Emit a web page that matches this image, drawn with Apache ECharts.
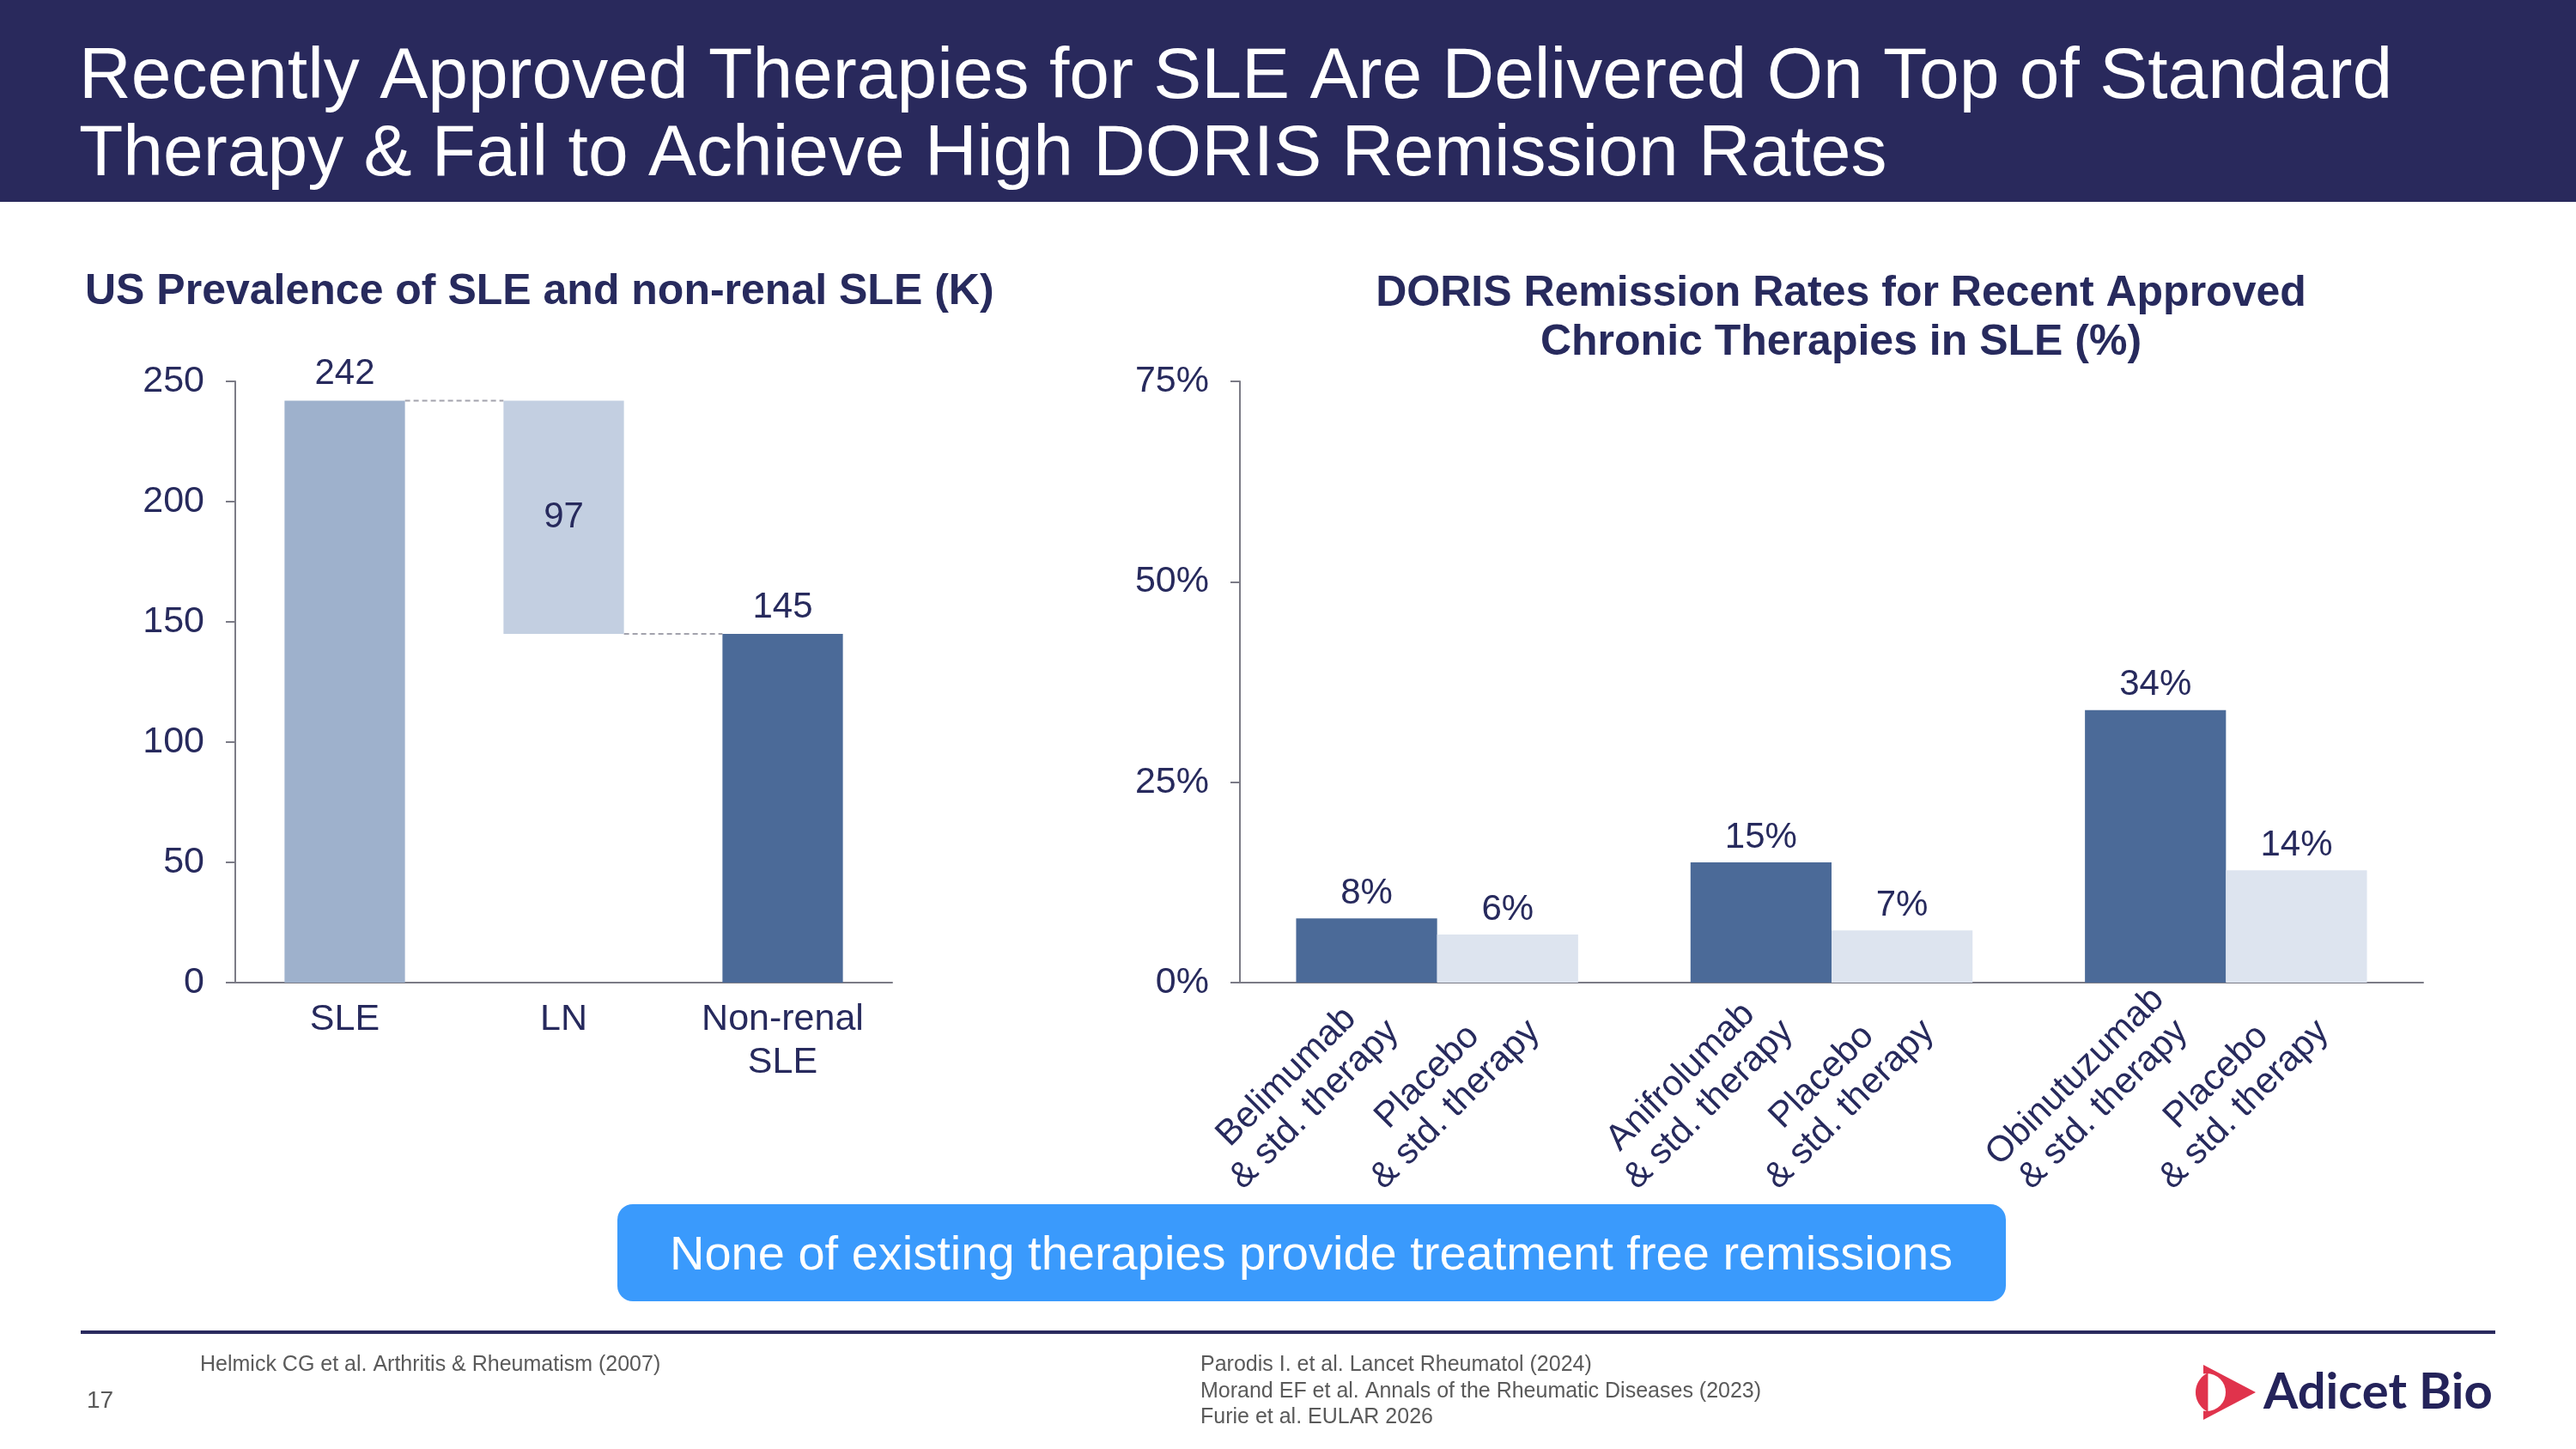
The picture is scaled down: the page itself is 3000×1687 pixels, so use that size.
<!DOCTYPE html>
<html>
<head>
<meta charset="utf-8">
<script src="https://cdn.jsdelivr.net/npm/echarts@6/dist/echarts.min.js"></script>
<style>
  html, body { margin: 0; padding: 0; background: #fff; }
  #chart { width: 3000px; height: 1687px; }
</style>
</head>
<body>
<div id="chart"></div>
<script>
// left panel: US prevalence of SLE (K)
const prevCategories = ['SLE', 'LN', 'Non-renal\nSLE'];
const prevValues = [242, 97, 145];
const prevTicks = [0, 250, 50];        // min, max, step

// right panel: DORIS remission rates (%)
const drugNames = ['Belimumab', 'Anifrolumab', 'Obinutuzumab'];
const drugRates = [8, 15, 34];
const placeboRates = [6, 6.5, 14];
const rateTicks = [0, 75, 25];

// footnotes
const leftRefs = ['Helmick CG et al. Arthritis & Rheumatism (2007)'];
const rightRefs = [
  'Parodis I. et al. Lancet Rheumatol (2024)',
  'Morand EF et al. Annals of the Rheumatic Diseases (2023)',
  'Furie et al. EULAR 2026'
];

const FONT = "'Liberation Sans', Arial, Helvetica, sans-serif";
const NAVY = '#272a5d';
const AXIS = '#7b7b86';

// waterfall: LN floats between SLE total and non-renal
const lnBase = prevValues[0] - prevValues[1];
const baseValues = [0, lnBase, 0];
const prevColors = ['#9eb1cc', '#c3cfe1', '#4b6a98'];
const connectors = [[0, prevValues[0]], [1, lnBase]];

// label offset for rotated text (offset is given in the rotated frame)
function rotOffset(dx, dy, deg) {
  const a = deg * Math.PI / 180, c = Math.cos(a), s = Math.sin(a);
  return [dx * c - dy * s, dx * s + dy * c];
}

function nameLabel(formatter) {
  return {
    show: true,
    position: 'inside',
    rotate: 45,
    align: 'center',
    verticalAlign: 'middle',
    offset: rotOffset(-77, 126, 45),
    formatter: formatter,
    color: NAVY,
    fontFamily: FONT,
    fontSize: 42,
    lineHeight: 46
  };
}

const pctLabel = {
  show: true,
  position: 'top',
  distance: 8,
  color: NAVY,
  fontFamily: FONT,
  fontSize: 42,
  formatter: p => Math.round(p.value) + '%'
};

const chart = echarts.init(document.getElementById('chart'));

const option = {
  backgroundColor: '#ffffff',
  animation: false,
  title: [
    {
      text: 'Recently Approved Therapies for SLE Are Delivered On Top of Standard\nTherapy & Fail to Achieve High DORIS Remission Rates',
      left: 92, top: 46, padding: 0,
      textStyle: { color: '#ffffff', fontFamily: FONT, fontSize: 84, fontWeight: 'normal', lineHeight: 90 }
    },
    {
      text: 'US Prevalence of SLE and non-renal SLE (K)',
      left: 99, top: 313, padding: 0,
      textStyle: { color: NAVY, fontFamily: FONT, fontSize: 50, fontWeight: 'bold', lineHeight: 54 }
    },
    {
      text: 'DORIS Remission Rates for Recent Approved\nChronic Therapies in SLE (%)',
      left: 2144, top: 314, textAlign: 'center', padding: 0,
      textStyle: { color: NAVY, fontFamily: FONT, fontSize: 50, fontWeight: 'bold', lineHeight: 57, align: 'center' }
    }
  ],
  grid: [
    { left: 274, top: 444, width: 765, height: 700 },
    { left: 1444, top: 444, width: 1378, height: 700 }
  ],
  xAxis: [
    {
      type: 'category', gridIndex: 0, data: prevCategories,
      axisLine: { lineStyle: { color: AXIS, width: 2 } },
      axisTick: { show: false },
      axisLabel: { color: NAVY, fontFamily: FONT, fontSize: 43, lineHeight: 50, margin: 18 }
    },
    {
      type: 'category', gridIndex: 1, data: drugNames,
      axisLine: { lineStyle: { color: AXIS, width: 2 } },
      axisTick: { show: false },
      axisLabel: { show: false }
    }
  ],
  yAxis: [
    {
      type: 'value', gridIndex: 0, min: prevTicks[0], max: prevTicks[1], interval: prevTicks[2],
      splitLine: { show: false },
      axisLine: { show: true, lineStyle: { color: AXIS, width: 2 } },
      axisTick: { show: true, length: 11, lineStyle: { color: AXIS, width: 2 } },
      axisLabel: { color: NAVY, fontFamily: FONT, fontSize: 43, margin: 36 }
    },
    {
      type: 'value', gridIndex: 1, min: rateTicks[0], max: rateTicks[1], interval: rateTicks[2],
      splitLine: { show: false },
      axisLine: { show: true, lineStyle: { color: AXIS, width: 2 } },
      axisTick: { show: true, length: 11, lineStyle: { color: AXIS, width: 2 } },
      axisLabel: { color: NAVY, fontFamily: FONT, fontSize: 43, margin: 36, formatter: '{value}%' }
    }
  ],
  series: [
    {
      name: 'base', type: 'bar', xAxisIndex: 0, yAxisIndex: 0, stack: 'wf',
      barWidth: '55%', silent: true,
      itemStyle: { color: 'transparent' },
      data: baseValues
    },
    {
      name: 'prevalence', type: 'bar', xAxisIndex: 0, yAxisIndex: 0, stack: 'wf',
      barWidth: '55%',
      label: {
        show: true, position: 'top', distance: 10,
        color: NAVY, fontFamily: FONT, fontSize: 42
      },
      data: prevValues.map((v, i) => ({
        value: v,
        itemStyle: { color: prevColors[i] },
        label: i === 1 ? { position: 'inside', color: NAVY } : {}
      }))
    },
    {
      name: 'connectors', type: 'custom', xAxisIndex: 0, yAxisIndex: 0,
      silent: true,
      data: connectors,
      encode: { x: 0, y: 1 },
      renderItem: function (params, api) {
        const p = api.coord([api.value(0), api.value(1)]);
        const catW = api.size([1, 0])[0];
        const half = catW * 0.55 / 2;
        return {
          type: 'line',
          shape: { x1: p[0] + half, y1: p[1], x2: p[0] + catW - half, y2: p[1] },
          style: { stroke: '#a3a3ad', lineWidth: 2, lineDash: [6, 4] }
        };
      }
    },
    {
      name: 'drugName', type: 'bar', xAxisIndex: 1, yAxisIndex: 1, stack: 'drug',
      barGap: '0%', barCategoryGap: '28.5%', silent: true,
      itemStyle: { color: 'transparent' },
      label: nameLabel(p => drugNames[p.dataIndex] + '\n& std. therapy'),
      data: drugNames.map(() => 0)
    },
    {
      name: 'Drug & std. therapy', type: 'bar', xAxisIndex: 1, yAxisIndex: 1, stack: 'drug',
      barGap: '0%', barCategoryGap: '28.5%',
      itemStyle: { color: '#4b6a98' },
      label: pctLabel,
      data: drugRates
    },
    {
      name: 'placeboName', type: 'bar', xAxisIndex: 1, yAxisIndex: 1, stack: 'pbo',
      barGap: '0%', barCategoryGap: '28.5%', silent: true,
      itemStyle: { color: 'transparent' },
      label: nameLabel(() => 'Placebo\n& std. therapy'),
      data: drugNames.map(() => 0)
    },
    {
      name: 'Placebo & std. therapy', type: 'bar', xAxisIndex: 1, yAxisIndex: 1, stack: 'pbo',
      barGap: '0%', barCategoryGap: '28.5%',
      itemStyle: { color: '#dde4ef' },
      label: pctLabel,
      data: placeboRates
    }
  ],
  graphic: [
    { type: 'rect', z: -10, shape: { x: 0, y: 0, width: 3000, height: 235 }, style: { fill: '#29295c' } },
    { type: 'rect', shape: { x: 719, y: 1402, width: 1617, height: 113, r: 18 }, style: { fill: '#3a9afc' } },
    {
      type: 'text', style: {
        text: 'None of existing therapies provide treatment free remissions',
        x: 1527, y: 1463, align: 'center', verticalAlign: 'middle',
        fill: '#ffffff', fontFamily: FONT, fontSize: 56
      }
    },
    { type: 'line', shape: { x1: 94, y1: 1551, x2: 2906, y2: 1551 }, style: { stroke: '#2a2a5e', lineWidth: 4 } },
    {
      type: 'text', style: {
        text: leftRefs.join('\n'), x: 233, y: 1574, align: 'left', verticalAlign: 'top',
        fill: '#5a5a5a', fontFamily: FONT, fontSize: 25, lineHeight: 30.5
      }
    },
    {
      type: 'text', style: {
        text: rightRefs.join('\n'), x: 1398, y: 1574, align: 'left', verticalAlign: 'top',
        fill: '#5a5a5a', fontFamily: FONT, fontSize: 25, lineHeight: 30.5
      }
    },
    {
      type: 'text', style: {
        text: '17', x: 101, y: 1631, align: 'left', verticalAlign: 'middle',
        fill: '#5a5a5a', fontFamily: FONT, fontSize: 28
      }
    },
    // logo mark
    { type: 'polygon', shape: { points: [[2566, 1589], [2627, 1621], [2566, 1653]] }, style: { fill: '#e0334c' } },
    { type: 'circle', shape: { cx: 2570, cy: 1621, r: 22 }, style: { fill: '#ffffff' } },
    {
      type: 'polygon',
      shape: {
        points: (function () {
          const pts = [];
          for (let a = 115; a <= 245; a += 5) {
            const r = a * Math.PI / 180;
            pts.push([2582 + 25 * Math.cos(r), 1621 + 25 * Math.sin(r)]);
          }
          return pts;
        })()
      },
      style: { fill: '#e0334c' }
    },
    {
      type: 'text', style: {
        text: 'Adicet Bio', x: 2636, y: 1621, align: 'left', verticalAlign: 'middle',
        fill: '#24235a', fontFamily: 'Lato, sans-serif', fontWeight: 'bold', fontSize: 58
      }
    }
  ]
};

chart.setOption(option);
</script>
</body>
</html>
